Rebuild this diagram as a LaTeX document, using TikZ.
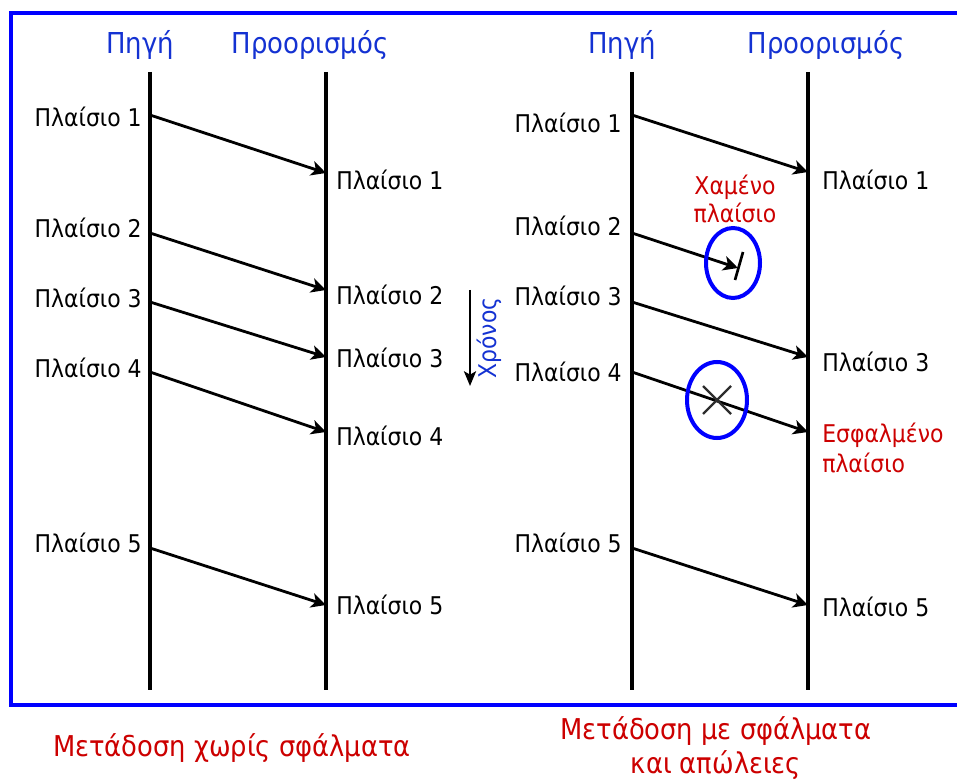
\documentclass[tikz,border=0pt]{standalone}
\usepackage{fontspec}
\setmainfont{DejaVu Sans Condensed}
\usetikzlibrary{arrows.meta}
\definecolor{hblue}{RGB}{20,50,210}
\definecolor{fblue}{RGB}{0,0,255}
\definecolor{cred}{RGB}{204,0,0}
\definecolor{xgray}{RGB}{45,45,45}
\tikzset{
  timeline/.style={line width=3.3pt,black},
  msg/.style={line width=2.1pt,black,-{Stealth[length=11pt,width=11pt,inset=3pt]}},
  head/.style={text=hblue,font=\fontsize{21.6}{23}\selectfont,inner sep=0pt},
  lbl/.style={font=\fontsize{18.3}{20}\selectfont,inner sep=0pt},
  redlbl/.style={text=cred,font=\fontsize{18.3}{22.5}\selectfont,inner sep=0pt,align=left},
  captext/.style={text=cred,font=\fontsize{21.5}{25.5}\selectfont,inner sep=0pt,align=center},
  ring/.style={draw=fblue,line width=3pt},
}
\begin{document}
\begin{tikzpicture}[x=0.75pt,y=-0.75pt]
\useasboundingbox (0,0) rectangle (957,780);
% frame
\draw[fblue,line width=2.6pt] (965,13) -- (11,13) -- (11,705) -- (965,705);
% timelines
\foreach \n/\x in {LS/150,LD/326,RS/632,RD/808}{
  \coordinate (\n top) at (\x,72);
  \coordinate (\n bot) at (\x,690);
  \draw[timeline] (\n top) -- (\n bot);
}
% headings
\node[head] (hLS) at (140,45) {Πηγή};
\node[head] (hLD) at (310,45) {Προορισμός};
\node[head] (hRS) at (622,45) {Πηγή};
\node[head] (hRD) at (826,45) {Προορισμός};
% left side
\foreach \i/\ys/\yd/\ls/\ld in {1/115/173/117/180, 2/233/290/228/295, 3/302/357/298/358, 4/372/432/368/436, 5/548/605/543/605}{
  \coordinate (Ls\i) at (150,\ys);
  \coordinate (Ld\i) at (326,\yd);
  \node[lbl,anchor=east] (Lsl\i) at (142,\ls) {Πλαίσιο \i};
  \node[lbl,anchor=west] (Ldl\i) at (336,\ld) {Πλαίσιο \i};
  \draw[msg] (Ls\i) -- (Ld\i);
}
% right side sources
\foreach \i/\ys/\ls in {1/115/123, 2/233/226, 3/302/296, 4/372/372, 5/548/543}{
  \coordinate (Rs\i) at (632,\ys);
  \node[lbl,anchor=east] (Rsl\i) at (622,\ls) {Πλαίσιο \i};
}
\foreach \i/\yd/\ld in {1/172/180, 3/357/362, 5/605/607}{
  \coordinate (Rd\i) at (808,\yd);
  \node[lbl,anchor=west] (Rdl\i) at (822,\ld) {Πλαίσιο \i};
  \draw[msg] (Rs\i) -- (Rd\i);
}
% lost frame 2
\coordinate (Rlost) at (738,268);
\draw[msg] (Rs2) -- (Rlost);
\coordinate (barA) at (743,252);
\coordinate (barB) at (735,280);
\draw[line width=2pt] (barA) -- (barB);
\coordinate (lostc) at (733,263);
\draw[ring] (lostc) ellipse [x radius=27,y radius=35];
\node[text=cred,font=\fontsize{18.3}{21}\selectfont,inner sep=0pt,align=center] (lostlbl) at (735,199) {Χαμένο\\πλαίσιο};
% erroneous frame 4
\coordinate (Rd4) at (808,432);
\draw[msg] (Rs4) -- (Rd4);
\coordinate (errc) at (717,400);
\draw[xgray,line width=1.8pt] (703,386) -- (731,414) (703,414) -- (731,386);
\draw[ring] (errc) ellipse [x radius=30,y radius=38];
\node[redlbl,anchor=west] (errlbl) at (822,448) {Εσφαλμένο\\πλαίσιο};
% time arrow
\coordinate (tA) at (470,290);
\coordinate (tB) at (470,386);
\draw[line width=1.8pt,-{Stealth[length=11pt,width=9pt,inset=2.5pt]}] (tA) -- (tB);
\node[text=hblue,font=\fontsize{18.3}{20}\selectfont,inner sep=0pt,rotate=90] (timelbl) at (489,338) {Χρόνος};
% captions
\node[captext] (capL) at (232,748) {Μετάδοση χωρίς σφάλματα};
\node[captext] (capR) at (716,748) {Μετάδοση με σφάλματα\\και απώλειες};
\end{tikzpicture}
\end{document}
